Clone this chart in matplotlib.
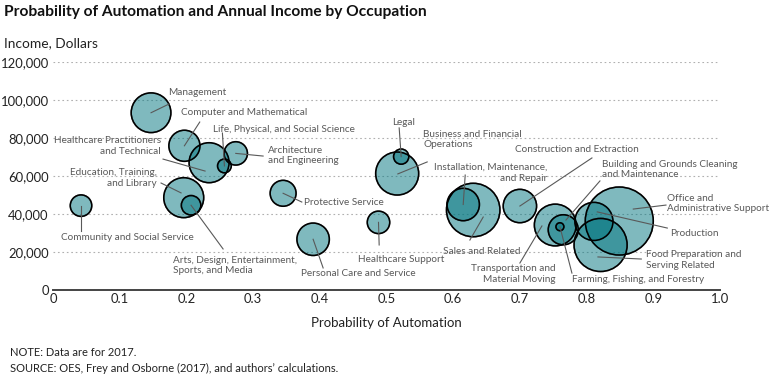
import matplotlib
matplotlib.use("Agg")
import matplotlib.pyplot as plt

plt.rcParams['font.family'] = ['Lato', 'DejaVu Sans']

# Occupation data
occupations = [
    'Community and Social Service', 'Education, Training, and Library',
    'Arts, Design, Entertainment, Sports, and Media', 'Management',
    'Computer and Mathematical', 'Healthcare Practitioners and Technical',
    'Life, Physical, and Social Science', 'Architecture and Engineering',
    'Protective Service', 'Personal Care and Service', 'Healthcare Support',
    'Business and Financial Operations', 'Legal', 'Sales and Related',
    'Installation, Maintenance, and Repair', 'Construction and Extraction',
    'Transportation and Material Moving', 'Building and Grounds Cleaning and Maintenance',
    'Farming, Fishing, and Forestry', 'Production',
    'Office and Administrative Support', 'Food Preparation and Serving Related',
]
automation = [0.042, 0.196, 0.207, 0.147, 0.197, 0.234, 0.257, 0.274,
              0.345, 0.390, 0.488, 0.516, 0.522, 0.630, 0.615, 0.700,
              0.753, 0.765, 0.760, 0.811, 0.849, 0.821]
income = [44400, 48600, 44600, 93300, 75900, 67000, 65300, 71900,
          50900, 26700, 35600, 61300, 70200, 42100, 45000, 44200,
          34200, 31700, 33300, 36100, 36300, 23700]
# employment, millions (bubble area)
employment = [2.2, 7.6, 1.8, 7.5, 4.6, 7.6, 0.9, 2.6,
              3.2, 5.0, 2.4, 8.8, 1.1, 13.6, 5.0, 5.3,
              8.3, 4.3, 0.3, 6.9, 22.0, 13.4]

# label layout: text, text x, text y, ha, line start, line end (None = bubble centre)
labels = {
    'Management': ('Management', 0.172, 104200, 'left', (0.174, 97900), None),
    'Computer and Mathematical': ('Computer and Mathematical', 0.192, 93200, 'left', (0.220, 88400), None),
    'Life, Physical, and Social Science': ('Life, Physical, and Social Science', 0.240, 84700, 'left', (0.254, 82600), None),
    'Healthcare Practitioners and Technical': ('Healthcare Practitioners\nand Technical', 0.162, 75800, 'right', (0.165, 68900), (0.228, 62600)),
    'Architecture and Engineering': ('Architecture\nand Engineering', 0.322, 70800, 'left', (0.315, 70500), None),
    'Education, Training, and Library': ('Education, Training,\nand Library', 0.156, 58900, 'right', (0.162, 56300), (0.192, 51100)),
    'Community and Social Service': ('Community and Social Service', 0.112, 27400, 'center', (0.042, 31100), None),
    'Arts, Design, Entertainment, Sports, and Media': ('Arts, Design, Entertainment,\nSports, and Media', 0.180, 12900, 'left', (0.255, 21600), None),
    'Protective Service': ('Protective Service', 0.376, 46300, 'left', (0.373, 46300), None),
    'Personal Care and Service': ('Personal Care and Service', 0.372, 8900, 'left', (0.405, 11600), None),
    'Healthcare Support': ('Healthcare Support', 0.457, 16300, 'left', (0.489, 23700), None),
    'Legal': ('Legal', 0.525, 87900, 'center', (0.519, 85300), None),
    'Business and Financial Operations': ('Business and Financial\nOperations', 0.555, 79200, 'left', (0.561, 67400), (0.517, 61100)),
    'Installation, Maintenance, and Repair': ('Installation, Maintenance,\nand Repair', 0.741, 61600, 'right', (0.618, 60500), None),
    'Sales and Related': ('Sales and Related', 0.643, 20500, 'center', (0.625, 26300), (0.645, 38400)),
    'Construction and Extraction': ('Construction and Extraction', 0.693, 74200, 'left', (0.808, 69500), None),
    'Building and Grounds Cleaning and Maintenance': ('Building and Grounds Cleaning\nand Maintenance', 0.823, 63400, 'left', (0.820, 57400), (0.769, 36800)),
    'Office and Administrative Support': ('Office and\nAdministrative Support', 0.921, 45500, 'left', (0.919, 44700), (0.870, 42600)),
    'Production': ('Production', 0.925, 30000, 'left', (0.921, 32600), (0.816, 41100)),
    'Food Preparation and Serving Related': ('Food Preparation and\nServing Related', 0.889, 15800, 'left', (0.882, 16300), (0.817, 17400)),
    'Farming, Fishing, and Forestry': ('Farming, Fishing, and Forestry', 0.778, 5300, 'left', (0.778, 8900), None),
    'Transportation and Material Moving': ('Transportation and\nMaterial Moving', 0.754, 8400, 'right', (0.700, 14200), (0.733, 33700)),
}

fig = plt.figure(figsize=(7.72, 3.79), dpi=100)
ax = fig.add_axes([53 / 772, 89 / 379, 667 / 772, 228 / 379])

sizes = [e * 109 for e in employment]
ax.scatter(automation, income, s=sizes, color='#00757f', alpha=0.5,
           edgecolors='black', linewidths=1.1, zorder=3)
ax.scatter(automation, income, s=sizes, facecolors='none',
           edgecolors='black', linewidths=1.1, zorder=4)

gray = '#595959'
for name, x, y in zip(occupations, automation, income):
    text, tx, ty, ha, start, end = labels[name]
    if end is None:
        end = (x, y)
    ax.plot([start[0], end[0]], [start[1], end[1]], color=gray, lw=0.8, zorder=5)
    ax.text(tx, ty, text, ha=ha, va='center', fontsize=7.2, color=gray,
            multialignment=ha, linespacing=1.25, zorder=6)

ax.set_xlim(0, 1.0)
ax.set_ylim(0, 120000)
ax.set_xticks([0, 0.1, 0.2, 0.3, 0.4, 0.5, 0.6, 0.7, 0.8, 0.9, 1.0])
ax.set_xticklabels(['0', '0.1', '0.2', '0.3', '0.4', '0.5', '0.6', '0.7', '0.8', '0.9', '1.0'])
ax.set_yticks(range(0, 120001, 20000))
ax.set_yticklabels([f'{v:,}' for v in range(0, 120001, 20000)])
ax.tick_params(axis='both', length=0, labelsize=9.4, colors='#222222', pad=2)
ax.tick_params(axis='y', pad=3)
for s in ['top', 'right', 'left']:
    ax.spines[s].set_visible(False)
ax.spines['bottom'].set_color('#444444')
ax.spines['bottom'].set_linewidth(1.4)
ax.yaxis.grid(True, linestyle=(0, (1.5, 2.5)), color='#b0b0b0', lw=0.8)
ax.set_axisbelow(True)
ax.set_xlabel('Probability of Automation', fontsize=9.5, color='#222222', labelpad=9)

fig.text(4 / 772, 1 - 12 / 379, 'Probability of Automation and Annual Income by Occupation',
         fontsize=11.2, fontweight='bold', va='center', ha='left', color='#111111')
fig.text(4 / 772, 1 - 43 / 379, 'Income, Dollars', fontsize=9.9, va='center', ha='left', color='#222222')
fig.text(10 / 772, 1 - 352 / 379, 'NOTE: Data are for 2017.', fontsize=8, va='center', ha='left', color='#222222')
fig.text(10 / 772, 1 - 368 / 379, 'SOURCE: OES, Frey and Osborne (2017), and authors\u2019 calculations.',
         fontsize=8, va='center', ha='left', color='#222222')

fig.savefig('out.png', dpi=100)
